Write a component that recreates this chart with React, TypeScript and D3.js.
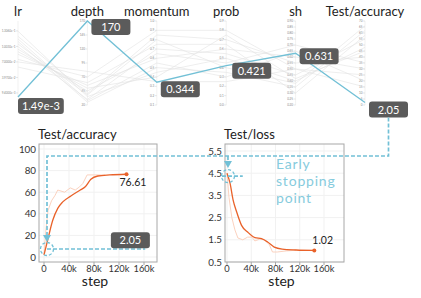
import React from "react";
import * as d3 from "d3";

// ---------- parallel coordinates data ----------
const dims = ["lr", "depth", "momentum", "prob", "sh", "Test/accuracy"];
const lrTicks = [0.1306, 0.1003, 0.07, 0.0397, 0.0094];
const depthTicks = [170, 145, 120, 95, 70, 45, 20];
const momentumTicks = [1.0, 0.9, 0.8, 0.7, 0.6, 0.5, 0.4, 0.3, 0.2, 0.1];
const probTicks = [0.9, 0.8, 0.7, 0.6, 0.5, 0.4, 0.3, 0.2, 0.1, 0.0];
const shTicks = [0.9, 0.85, 0.8, 0.75, 0.7, 0.65, 0.6, 0.55, 0.5, 0.45, 0.4, 0.35, 0.3, 0.25, 0.2];
const accAxisTicks = [70, 65, 60, 55, 50, 45, 40, 35, 30, 25, 20, 15, 10, 5, 0];

const runLr = [0.12, 0.1, 0.085, 0.11, 0.075, 0.13, 0.095, 0.06, 0.115, 0.09, 0.105, 0.07];
const runDepth = [40, 30, 55, 25, 70, 35, 45, 60, 28, 50, 38, 80];
const runMomentum = [0.85, 0.7, 0.6, 0.5, 0.9, 0.45, 0.65, 0.75, 0.55, 0.4, 0.8, 0.35];
const runProb = [0.7, 0.55, 0.6, 0.35, 0.8, 0.5, 0.45, 0.65, 0.3, 0.75, 0.4, 0.25];
const runSh = [0.55, 0.45, 0.6, 0.35, 0.5, 0.4, 0.7, 0.3, 0.65, 0.42, 0.38, 0.5];
const runAcc = [40, 55, 30, 62, 25, 48, 35, 58, 20, 45, 66, 15];

const bestRun = [0.00149, 170, 0.344, 0.421, 0.631, 2.05];
const bestLabels = ["1.49e-3", "170", "0.344", "0.421", "0.631", "2.05"];

// ---------- training curves ----------
const accSteps = [0, 6000, 14000, 22000, 30000, 43000, 58000, 66000, 75000, 86000, 105000, 132000];
const accValues = [2, 16, 34, 45, 51, 56.5, 62, 65, 72, 75, 76, 76.61];
const accRawSteps = [0, 3000, 6400, 12000, 17600, 22000, 33000, 42000, 50000, 57000, 62000, 69000, 98000];
const accRawValues = [2, 25, 43, 52, 57, 62, 60, 64, 62, 65, 68, 76, 76];

const lossSteps = [0, 5000, 10000, 16000, 24000, 34000, 46000, 57000, 67000, 78000, 91000, 114000, 144000];
const lossValues = [4.5, 4.05, 3.3, 2.75, 2.15, 1.85, 1.6, 1.55, 1.4, 1.17, 1.08, 1.04, 1.02];
const lossRawSteps = [0, 3300, 8000, 13000, 18000, 26000, 34000, 41000, 46000, 54000, 62000, 70000, 75000, 83000, 98000, 114000];
const lossRawValues = [4.5, 3.4, 2.5, 1.95, 1.58, 1.5, 1.62, 1.62, 1.45, 1.53, 1.5, 1.27, 0.95, 0.95, 1.0, 1.03];

const stepTicks = [0, 40000, 80000, 120000, 160000];
const stepTickLabels = ["0", "40k", "80k", "120k", "160k"];
const accTicks = [0, 20, 40, 60, 80, 100];
const lossTicks = [0.5, 1.5, 2.5, 3.5, 4.5, 5.5];

const FONT = "Lato, 'Open Sans', sans-serif";
const BLUE = "#72c0d6";
const ORANGE = "#e9622a";
const ORANGE_LIGHT = "#fbd2bf";
const BOX = "#5b5b5b";

function Box({ x, y, label }: { x: number; y: number; label: string }) {
  const w = Math.max(39, label.length * 5.4 + 8);
  return (
    <g>
      <rect x={x} y={y} width={w} height={16} rx={3} fill={BOX} />
      <text x={x + w / 2} y={y + 12} textAnchor="middle" fontSize={11} fill="#fff" fontFamily={FONT}>
        {label}
      </text>
    </g>
  );
}

export default function App() {
  // parallel coordinates
  const px = d3.scalePoint<string>().domain(dims).range([18, 365]);
  const top = 21;
  const ys: d3.ScaleLinear<number, number>[] = [
    d3.scaleLinear().domain([0.00149, 0.15]).range([97, top]),
    d3.scaleLinear().domain([20, 170]).range([105, top]),
    d3.scaleLinear().domain([0.1, 1.0]).range([105, top]),
    d3.scaleLinear().domain([0, 0.9]).range([105, top]),
    d3.scaleLinear().domain([0.2, 0.9]).range([105, top]),
    d3.scaleLinear().domain([0, 70]).range([105, top]),
  ];
  const tickSets = [lrTicks, depthTicks, momentumTicks, probTicks, shTicks, accAxisTicks];
  const tickFmts = [d3.format(".4e"), d3.format("d"), d3.format(".1f"), d3.format(".1f"), d3.format(".2f"), d3.format("d")];
  const runs = runLr.map((_, i) => [runLr[i], runDepth[i], runMomentum[i], runProb[i], runSh[i], runAcc[i]]);
  const pcLine = d3
    .line<number>()
    .x((_, i) => px(dims[i]) as number)
    .y((v, i) => ys[i](v));
  const bestPts = bestRun.map((v, i) => [px(dims[i]) as number, ys[i](v)]);
  const boxOffsets = [
    [0, 1],
    [4, -2],
    [4, -1],
    [6, -3],
    [4, -5],
    [4, -1],
  ];

  // lower charts
  const ax = d3.scaleLinear().domain([0, 160000]).range([44, 144]);
  const ay = d3.scaleLinear().domain([0, 100]).range([257, 149]);
  const lx = d3.scaleLinear().domain([0, 160000]).range([227, 324]);
  const ly = d3.scaleLinear().domain([0.5, 5.5]).range([262, 151]);
  const accFrame = { x0: 39, y0: 144, x1: 157, y1: 262 };
  const lossFrame = { x0: 225, y0: 144, x1: 344, y1: 262 };

  const lineGen = (sx: any, sy: any, curve: any) =>
    d3
      .line<[number, number]>()
      .x((d) => sx(d[0]))
      .y((d) => sy(d[1]))
      .curve(curve);

  const accPath = lineGen(ax, ay, d3.curveMonotoneX)(accSteps.map((s, i) => [s, accValues[i]]));
  const accRawPath = lineGen(ax, ay, d3.curveLinear)(accRawSteps.map((s, i) => [s, accRawValues[i]]));
  const lossPath = lineGen(lx, ly, d3.curveMonotoneX)(lossSteps.map((s, i) => [s, lossValues[i]]));
  const lossRawPath = lineGen(lx, ly, d3.curveLinear)(lossRawSteps.map((s, i) => [s, lossRawValues[i]]));

  // annotation geometry (in data units of each chart)
  const accBox = bestPts[5];
  const accBoxW = 39;
  const routeX = accBox[0] + boxOffsets[5][0] + accBoxW / 2;
  const routeTopY = accBox[1] + boxOffsets[5][1] + 16;
  const routeY = ay(93.5);
  const accCx = ax(4800);
  const accCy = ay(7.4);
  const lossCx = lx(1600);
  const lossCy = ly(4.37);
  const arrow = (x: number, tipY: number) => `M${x - 4},${tipY - 7} L${x + 4},${tipY - 7} L${x},${tipY} Z`;
  const accTip = accCy - 7;
  const lossTip = lossCy - 8;

  const lastAcc = [accSteps[accSteps.length - 1], accValues[accValues.length - 1]];
  const lastLoss = [lossSteps[lossSteps.length - 1], lossValues[lossValues.length - 1]];

  const renderFrame = (
    f: { x0: number; y0: number; x1: number; y1: number },
    sx: any,
    sy: any,
    yt: number[],
    yFmt: (v: number) => string
  ) => (
    <g>
      {stepTicks.map((t) => (
        <line key={"gx" + t} x1={sx(t)} x2={sx(t)} y1={f.y0} y2={f.y1} stroke="#f1f1f1" strokeWidth={1} />
      ))}
      {yt.map((t) => (
        <line key={"gy" + t} x1={f.x0} x2={f.x1} y1={sy(t)} y2={sy(t)} stroke="#f1f1f1" strokeWidth={1} />
      ))}
      <rect x={f.x0} y={f.y0} width={f.x1 - f.x0} height={f.y1 - f.y0} fill="none" stroke="#a8a8a8" strokeWidth={1} />
      {stepTicks.map((t, i) => (
        <g key={"tx" + t}>
          <line x1={sx(t)} x2={sx(t)} y1={f.y1} y2={f.y1 + 3} stroke="#a8a8a8" />
          <text x={sx(t)} y={271.5} textAnchor="middle" fontSize={9.3} fill="#333" fontFamily={FONT}>
            {stepTickLabels[i]}
          </text>
        </g>
      ))}
      {yt.map((t) => (
        <text key={"ty" + t} x={f.x0 - 3} y={sy(t) + 3.5} textAnchor="end" fontSize={9.8} fill="#333" fontFamily={FONT}>
          {yFmt(t)}
        </text>
      ))}
      <text x={(f.x0 + f.x1) / 2 - 3} y={286} textAnchor="middle" fontSize={14} fill="#222" fontFamily={FONT}>
        step
      </text>
    </g>
  );

  return (
    <svg
      width={421}
      height={298}
      style={{ position: "absolute", left: 0, top: 0, background: "#fff" }}
      fontFamily={FONT}
    >
      {/* parallel coordinate axes */}
      {dims.map((d, i) => {
        const x = px(d) as number;
        return (
          <g key={d}>
            <line x1={x} x2={x} y1={ys[i].range()[1]} y2={ys[i].range()[0]} stroke="#e8e8e8" strokeWidth={0.6} />
            {tickSets[i].map((t) => (
              <g key={t}>
                <line x1={x - 2} x2={x} y1={ys[i](t)} y2={ys[i](t)} stroke="#ccc" strokeWidth={0.5} />
                <text x={x - 2.5} y={ys[i](t) + 1.1} textAnchor="end" fontSize={3} fill="#888">
                  {tickFmts[i](t)}
                </text>
              </g>
            ))}
            <text x={x} y={16} textAnchor="middle" fontSize={13} fill="#222">
              {d}
            </text>
          </g>
        );
      })}
      {runs.map((r, i) => (
        <path key={"run" + i} d={pcLine(r) as string} fill="none" stroke="#e2e2e2" strokeWidth={0.6} />
      ))}
      <path d={pcLine(bestRun) as string} fill="none" stroke={BLUE} strokeWidth={1.3} />
      {bestPts.map((p, i) => (
        <Box key={"box" + i} x={p[0] + boxOffsets[i][0]} y={p[1] + boxOffsets[i][1]} label={bestLabels[i]} />
      ))}

      {/* lower charts */}
      <text x={38} y={139} fontSize={13} fill="#222">
        Test/accuracy
      </text>
      <text x={224} y={139} fontSize={13} fill="#222">
        Test/loss
      </text>
      {renderFrame(accFrame, ax, ay, accTicks, (v) => String(v))}
      {renderFrame(lossFrame, lx, ly, lossTicks, d3.format(".1f"))}

      <path d={accRawPath as string} fill="none" stroke={ORANGE_LIGHT} strokeWidth={1} />
      <path d={accPath as string} fill="none" stroke={ORANGE} strokeWidth={1.3} />
      <circle cx={ax(lastAcc[0])} cy={ay(lastAcc[1])} r={2} fill={ORANGE} />
      <text x={ax(lastAcc[0]) - 7} y={ay(lastAcc[1]) + 12} fontSize={10.5} fill="#222">
        {d3.format(".2f")(lastAcc[1])}
      </text>

      <path d={lossRawPath as string} fill="none" stroke={ORANGE_LIGHT} strokeWidth={1} />
      <path d={lossPath as string} fill="none" stroke={ORANGE} strokeWidth={1.3} />
      <circle cx={lx(lastLoss[0])} cy={ly(lastLoss[1])} r={2} fill={ORANGE} />
      <text x={lx(lastLoss[0]) - 2} y={ly(lastLoss[1]) - 6} fontSize={10.5} fill="#222">
        {d3.format(".2f")(lastLoss[1])}
      </text>

      {/* early stopping annotations */}
      <g fill="none" stroke={BLUE} strokeWidth={1.7} strokeDasharray="4,2">
        <path d={`M${routeX},${routeTopY} V${routeY} H${accCx} V${accTip - 7}`} />
        <path d={`M${lossCx},${routeY} V${lossTip - 7}`} />
        <circle cx={accCx} cy={accCy} r={6.5} strokeWidth={1.3} strokeDasharray="3,2" />
        <circle cx={lossCx} cy={lossCy} r={6.5} strokeWidth={1.3} strokeDasharray="3,2" />
        <path d={`M${accCx},${accCy} H${ax(162000)}`} />
        <path d={`M${lossCx - 6},${lossCy} H${lx(26000)}`} />
      </g>
      <path d={arrow(accCx, accTip)} fill={BLUE} />
      <path d={arrow(lossCx, lossTip)} fill={BLUE} />
      <Box x={ax(107000)} y={ay(23)} label={bestLabels[5]} />
      <g fontSize={14} fill="#86cbdd" letterSpacing={0.8}>
        <text x={276} y={169}>Early</text>
        <text x={276} y={186}>stopping</text>
        <text x={276} y={203}>point</text>
      </g>
    </svg>
  );
}
